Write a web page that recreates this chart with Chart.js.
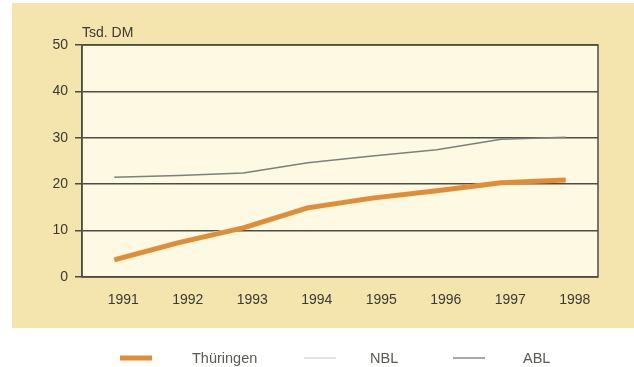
<!DOCTYPE html>
<html>
<head>
<meta charset="utf-8">
<script src="https://cdn.jsdelivr.net/npm/chart.js@4.4.1/dist/chart.umd.min.js"></script>
<style>
  html, body { margin: 0; padding: 0; background: #ffffff; }
  #c { display: block; }
</style>
</head>
<body>
<canvas id="c" width="634" height="367"></canvas>
<script>
// Jahre und Werte (Tsd. DM)
const years = ['1991', '1992', '1993', '1994', '1995', '1996', '1997', '1998'];
const thueringen = [3.7, 7.4, 10.6, 14.9, 17.0, 18.6, 20.3, 20.9];
const nbl = [4.2, 7.9, 11.0, 15.5, 17.4, 18.9, 20.6, 21.2];
const abl = [21.5, 21.9, 22.4, 24.6, 26.1, 27.4, 29.7, 30.1];
const yTicks = [0, 10, 20, 30, 40, 50];
const unitLabel = 'Tsd. DM';

const FONT = '"Liberation Sans", Arial, Helvetica, sans-serif';
const TEXT = '#3b3a33';
const GRID = '#4e4d44';

// Hintergrund: gelbe Tafel, heller Plotbereich, Rahmen, Einheit
const backdrop = {
  id: 'backdrop',
  beforeDraw(chart) {
    const { ctx, chartArea: a } = chart;
    ctx.save();
    ctx.fillStyle = '#ffffff';
    ctx.fillRect(0, 0, chart.width, chart.height);
    ctx.fillStyle = '#f4e4ae';
    ctx.fillRect(12, 3, chart.width - 12, 325);
    ctx.fillStyle = '#fdf9e2';
    ctx.fillRect(a.left, a.top, a.right - a.left, a.bottom - a.top);
    ctx.restore();
  },
  afterDraw(chart) {
    const { ctx, chartArea: a } = chart;
    ctx.save();
    ctx.strokeStyle = GRID;
    ctx.lineWidth = 1.5;
    ctx.strokeRect(a.left, a.top, a.right - a.left, a.bottom - a.top);
    ctx.fillStyle = TEXT;
    ctx.font = '14px ' + FONT;
    ctx.textBaseline = 'alphabetic';
    ctx.textAlign = 'left';
    ctx.fillText(unitLabel, a.left, a.top - 8);
    ctx.restore();
  }
};

// Legende unter der Tafel
const bottomLegend = {
  id: 'bottomLegend',
  afterDraw(chart) {
    const { ctx } = chart;
    const swatchX = [120, 304, 453];
    const textX = [192, 370, 523];
    const y = 358;
    ctx.save();
    ctx.font = '14.5px ' + FONT;
    ctx.textBaseline = 'middle';
    ctx.textAlign = 'left';
    chart.data.datasets.forEach((ds, i) => {
      ctx.strokeStyle = ds.legendColor || ds.borderColor;
      ctx.lineWidth = ds.legendWidth || ds.borderWidth;
      ctx.beginPath();
      ctx.moveTo(swatchX[i], y);
      ctx.lineTo(swatchX[i] + 32, y);
      ctx.stroke();
      ctx.fillStyle = '#5a5a55';
      ctx.fillText(ds.label, textX[i], y + 1);
    });
    ctx.restore();
  }
};

new Chart(document.getElementById('c'), {
  type: 'line',
  data: {
    labels: years,
    datasets: [
      { label: 'Thüringen', data: thueringen, borderColor: '#e08d36', borderWidth: 5,
        legendWidth: 5, order: 0 },
      { label: 'NBL', data: nbl, borderColor: '#eef0ee', borderWidth: 1.5,
        legendColor: '#d9dbd8', legendWidth: 1.5, order: 1 },
      { label: 'ABL', data: abl, borderColor: '#7c807d', borderWidth: 1.5,
        legendColor: '#8a8c88', legendWidth: 1.5, order: 2 }
    ]
  },
  options: {
    responsive: false,
    animation: false,
    devicePixelRatio: 1,
    layout: { padding: { top: 45, right: 36, left: 0, bottom: 0 } },
    elements: {
      point: { radius: 0 },
      line: { tension: 0, borderCapStyle: 'butt', borderJoinStyle: 'round' }
    },
    plugins: {
      legend: { display: false },
      tooltip: { enabled: false }
    },
    scales: {
      x: {
        offset: true,
        grid: { display: false, drawTicks: false },
        border: { display: false },
        ticks: {
          color: TEXT, font: { size: 14, family: FONT },
          padding: 15, labelOffset: 9, maxRotation: 0, autoSkip: false
        },
        afterFit(s) { s.height = 90; }
      },
      y: {
        min: 0, max: 50,
        afterBuildTicks(s) { s.ticks = yTicks.map(v => ({ value: v })); },
        grid: { color: GRID, lineWidth: 1.5, drawTicks: true, tickLength: 7, tickColor: GRID },
        border: { display: true, color: GRID, width: 1.5 },
        ticks: { color: TEXT, font: { size: 14, family: FONT }, padding: 7 },
        afterFit(s) { s.width = 82; }
      }
    }
  },
  plugins: [backdrop, bottomLegend]
});
</script>
</body>
</html>
